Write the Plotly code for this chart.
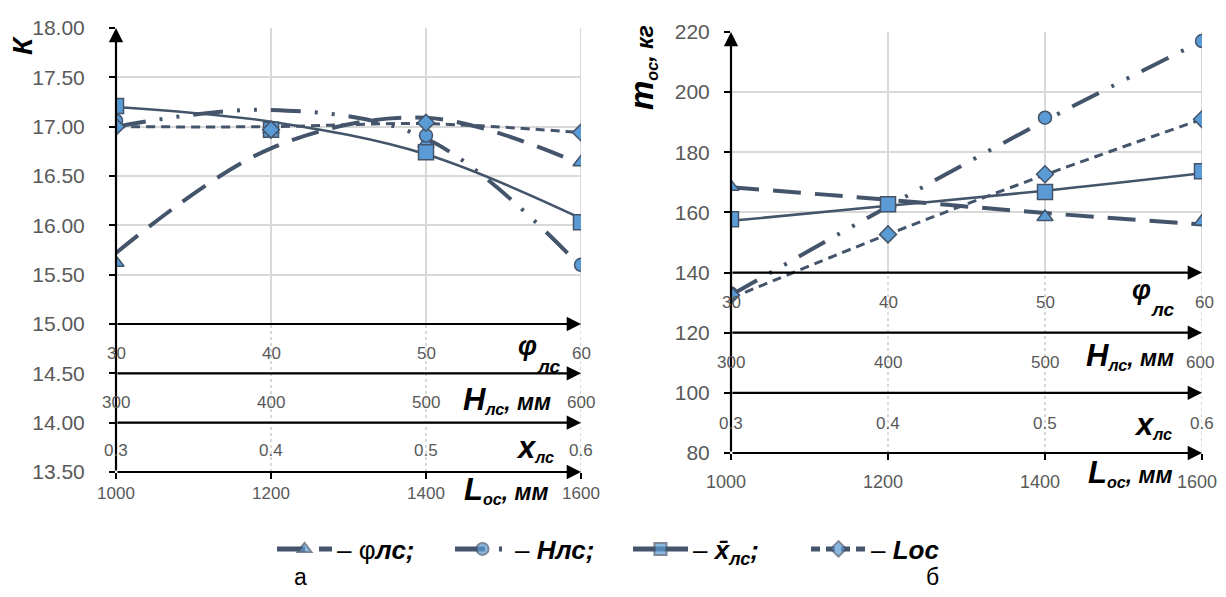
import plotly.graph_objects as go

# ---------------- data ----------------
L_os = [1000, 1200, 1400, 1600]
L_labels = ["1000", "1200", "1400", "1600"]
phi_labels = ["30", "40", "50", "60"]
H_labels = ["300", "400", "500", "600"]
x_labels = ["0.3", "0.4", "0.5", "0.6"]

# chart a: K (markers = data points, *_trend = smoothed trend curves)
K_phi = [15.62, 16.97, 16.83, 16.64]
K_H = [17.06, 16.97, 16.91, 15.60]
K_x = [17.21, 16.97, 16.74, 16.03]
K_L = [17.00, 16.97, 17.04, 16.94]
K_phi_trend = [15.72, 16.78, 17.09, 16.62]
K_H_trend = [17.00, 17.17, 16.88, 15.58]
K_x_trend = [17.20, 17.05, 16.72, 16.07]
K_L_trend = [17.00, 17.00, 17.03, 16.94]

# chart б: m_oc, kg
m_phi = [168.5, 162.7, 158.5, 157.0]
m_H = [133.0, 162.7, 191.5, 217.0]
m_x = [157.7, 162.7, 166.8, 173.7]
m_L = [132.5, 152.7, 172.7, 191.0]
m_phi_trend = [168.4, 164.2, 159.8, 156.0]
m_H_trend = [132.5, 162.0, 190.5, 217.0]
m_x_trend = [157.2, 162.2, 167.2, 173.0]
m_L_trend = [131.5, 152.7, 172.5, 191.0]

# ---------------- styles ----------------
# the page body has an 8px margin, so the figure is 16px smaller and
# page-pixel positions are shifted by 8px
OFF = 8
W, Hh = 1226 - 2 * OFF, 597 - 2 * OFF
def fx(p): return (p - OFF) / W
def fy(p): return 1 - (p - OFF) / Hh

LINE = '#44546a'
FILL = '#5b9bd5'
GRID = '#d9d9d9'
TICK = '#595959'
FONT = 'Liberation Sans, Arial, sans-serif'

styles = [
    ('– φ<b><i>лс;</i></b>', 'triangle-up', 14, '28px,14px', 4),
    ('– <b><i>Hлс;</i></b>', 'circle', 13, '30px,14px,3px,14px,3px,14px', 4),
    ('– <b><i>x̄<sub>лс</sub>;</i></b>', 'square', 15, 'solid', 2.5),
    ('– <b><i>Lос</i></b>', 'diamond', 13, '9px,6px', 3),
]
left_marks = [K_phi, K_H, K_x, K_L]
left_trends = [K_phi_trend, K_H_trend, K_x_trend, K_L_trend]
right_marks = [m_phi, m_H, m_x, m_L]
right_trends = [m_phi_trend, m_H_trend, m_x_trend, m_L_trend]

fig = go.Figure()

for xa, ya, marks, trends, leg in [('x', 'y', left_marks, left_trends, True),
                                   ('x2', 'y2', right_marks, right_trends, False)]:
    for (name, sym, ms, dash, lw), tr in zip(styles, trends):
        fig.add_trace(go.Scatter(
            x=L_os, y=tr, mode='lines+markers', xaxis=xa, yaxis=ya,
            name=name, showlegend=leg, hoverinfo='skip',
            line=dict(color=LINE, width=lw, dash=dash, shape='spline', smoothing=1),
            marker=dict(symbol=sym, size=[0.01] * len(L_os), color=FILL,
                        line=dict(color=LINE, width=1))))
    for (name, sym, ms, dash, lw), mk in zip(styles, marks):
        fig.add_trace(go.Scatter(
            x=L_os, y=mk, mode='markers', xaxis=xa, yaxis=ya, showlegend=False,
            marker=dict(symbol=sym, size=ms, color=FILL, line=dict(color=LINE, width=1.5))))

# ---------------- axes ----------------
left_x = [fx(116), fx(581)]
left_y = [fy(472), fy(28)]
right_x = [fx(731), fx(1202)]
right_y = [fy(453), fy(32)]

common_x = dict(range=[1000, 1600], tickvals=L_os, ticktext=L_labels, ticks='outside',
                ticklen=6, tickwidth=2, tickcolor='black', showgrid=False, zeroline=False,
                showline=False, fixedrange=True, ticklabeloverflow='allow')
common_y = dict(ticks='outside', ticklen=6, tickwidth=1.5, tickcolor='black', showgrid=True,
                gridcolor=GRID, gridwidth=1.5, zeroline=False, showline=False)

fig.update_layout(
    xaxis=dict(domain=left_x, anchor='y', tickfont=dict(size=17, color=TICK, family=FONT), **common_x),
    yaxis=dict(domain=left_y, anchor='x', range=[13.5, 18.0], dtick=0.5, tickformat='.2f',
               ticklabelstandoff=20,
               tickfont=dict(size=21, color=TICK, family=FONT), **common_y),
    xaxis2=dict(domain=right_x, anchor='y2', tickfont=dict(size=18, color=TICK, family=FONT),
                ticklabelstandoff=6, ticklabelshift=-5, **common_x),
    yaxis2=dict(domain=right_y, anchor='x2', range=[80, 220], dtick=20, ticklabelstandoff=10,
                tickfont=dict(size=21, color=TICK, family=FONT), **common_y),
)

shapes = []
annotations = []

# vertical gridlines (solid in upper part, dotted in the lower multi-axis zone)
for xa, ya, lo, mid, hi in [('x', 'y', 13.5, 15.0, 18.0), ('x2', 'y2', 80, 140, 220)]:
    for xv in L_os[1:]:
        shapes.append(dict(type='line', xref=xa, yref=ya, x0=xv, x1=xv, y0=mid, y1=hi,
                           line=dict(color=GRID, width=2), layer='below'))
        shapes.append(dict(type='line', xref=xa, yref=ya, x0=xv, x1=xv, y0=lo, y1=mid,
                           line=dict(color=GRID, width=2, dash='dot'), layer='below'))

# arrowed axis lines
def arrow(xa, ya, x, y, ax, ay):
    annotations.append(dict(xref=xa, yref=ya, axref=xa, ayref=ya, x=x, y=y, ax=ax, ay=ay,
                            text='', showarrow=True, arrowhead=2, arrowsize=1.3,
                            arrowwidth=2.2, arrowcolor='black', standoff=0))

for lvl in [15.0, 14.5, 14.0, 13.5]:
    arrow('x', 'y', 1600, lvl, 1000, lvl)
arrow('x', 'y', 1000, 18.0, 1000, 13.5)
for lvl in [140, 120, 100, 80]:
    arrow('x2', 'y2', 1600, lvl, 1000, lvl)
arrow('x2', 'y2', 1000, 220, 1000, 80)

# secondary scale labels
def row(xa, ya, yv, labels, keep_inside=False):
    n = len(labels)
    for i, (xv, t) in enumerate(zip(L_os, labels)):
        last = keep_inside and i == n - 1
        annotations.append(dict(xref=xa, yref=ya, x=xv, y=yv, text=t, showarrow=False,
                                xanchor='right' if last else 'center', yanchor='middle',
                                xshift=14 if last else 0,
                                font=dict(size=17, color=TICK, family=FONT)))

row('x', 'y', 14.70, phi_labels)
row('x', 'y', 14.20, H_labels)
row('x', 'y', 13.72, x_labels)
row('x2', 'y2', 130, phi_labels, True)
row('x2', 'y2', 110, H_labels, True)
row('x2', 'y2', 89.7, x_labels, True)

def lab(px_, py_, text, size=18, angle=0, color='black'):
    annotations.append(dict(xref='paper', yref='paper', x=fx(px_), y=fy(py_), text=text,
                            showarrow=False, xanchor='center', yanchor='middle',
                            textangle=angle, font=dict(size=size, color=color, family=FONT)))

big = '<span style="font-size:31px">%s</span>'
# chart a variable names
lab(527, 346, '<b><i>φ</i></b>', 27)
lab(549, 366, '<b><i>лс</i></b>', 19)
lab(507, 400, '<b><i>' + big % 'H' + '<sub>лс</sub>, мм</i></b>', 23)
lab(535, 448, '<b><i>' + big % 'x' + '<sub>лс</sub></i></b>', 23)
lab(506, 490, '<b><i>' + big % 'L' + '<sub>ос</sub>, мм</i></b>', 23)
# chart б variable names
lab(1141, 290, '<b><i>φ</i></b>', 27)
lab(1163, 309, '<b><i>лс</i></b>', 19)
lab(1130, 356, '<b><i>' + big % 'H' + '<sub>лс</sub>, мм</i></b>', 23)
lab(1153, 425, '<b><i>' + big % 'x' + '<sub>лс</sub></i></b>', 23)
lab(1130, 473, '<b><i>' + big % 'L' + '<sub>ос</sub>, мм</i></b>', 23)

# y titles
lab(22, 46, '<b><i>К</i></b>', 28, -90)
lab(642, 68, '<b><i><span style="font-size:33px">m</span><sub>ос</sub>, кг</i></b>', 23, -90)

# captions
lab(300, 577, 'а', 23)
lab(932, 577, 'б', 23)

fig.update_layout(
    width=W, height=Hh, margin=dict(l=0, r=0, t=0, b=0, autoexpand=False),
    paper_bgcolor='white', plot_bgcolor='white',
    shapes=shapes, annotations=annotations,
    legend=dict(orientation='h', x=fx(272), y=fy(549), xanchor='left', yanchor='middle',
                font=dict(size=26, color='black', family=FONT), itemsizing='constant',
                itemwidth=55, entrywidth=108, bgcolor='rgba(0,0,0,0)'),
    font=dict(family=FONT),
)

fig.write_html("out.html")
